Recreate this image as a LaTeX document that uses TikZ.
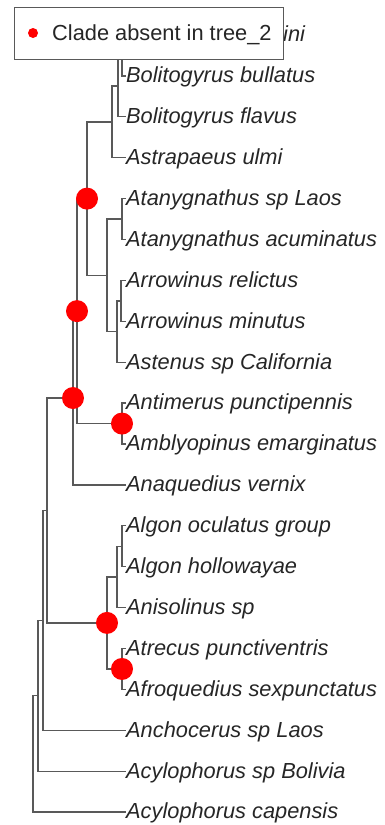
\documentclass[tikz,border=0pt]{standalone}
\usepackage{fontspec}
\setmainfont{Liberation Sans}
\begin{document}
\begin{tikzpicture}[x=1pt,y=-1pt,
  edge/.style={draw=black!65, line width=1.3pt},
  leaf/.style={anchor=base west, inner sep=0pt, yshift=-6.8pt, font=\fontsize{21.8}{22}\selectfont\itshape, text=black!85},
  absent/.style={circle, fill=red, draw=none, minimum size=22pt, inner sep=0pt},
  legdot/.style={circle, fill=red, draw=none, minimum size=10pt, inner sep=0pt}]
\useasboundingbox (0,0) rectangle (384,825);
% tips
\coordinate (t1) at (126,35);
\node[leaf] (t1lab) at (283,35) {ini};
\node[leaf] (t2) at (126,75.9) {Bolitogyrus bullatus};
\node[leaf] (t3) at (126,116.8) {Bolitogyrus flavus};
\node[leaf] (t4) at (126,157.7) {Astrapaeus ulmi};
\node[leaf] (t5) at (126,198.6) {Atanygnathus sp Laos};
\node[leaf] (t6) at (126,239.5) {Atanygnathus acuminatus};
\node[leaf] (t7) at (126,280.4) {Arrowinus relictus};
\node[leaf] (t8) at (126,321.3) {Arrowinus minutus};
\node[leaf] (t9) at (126,362.2) {Astenus sp California};
\node[leaf] (t10) at (126,403.1) {Antimerus punctipennis};
\node[leaf] (t11) at (126,444) {Amblyopinus emarginatus};
\node[leaf] (t12) at (126,484.9) {Anaquedius vernix};
\node[leaf] (t13) at (126,525.8) {Algon oculatus group};
\node[leaf] (t14) at (126,566.7) {Algon hollowayae};
\node[leaf] (t15) at (126,607.6) {Anisolinus sp};
\node[leaf] (t16) at (126,648.5) {Atrecus punctiventris};
\node[leaf] (t17) at (126,689.4) {Afroquedius sexpunctatus};
\node[leaf] (t18) at (126,730.3) {Anchocerus sp Laos};
\node[leaf] (t19) at (126,771.2) {Acylophorus sp Bolivia};
\node[leaf] (t20) at (126,812.1) {Acylophorus capensis};
% tip anchor points (line ends)
\foreach \i/\y in {2/75.9,3/116.8,4/157.7,5/198.6,6/239.5,7/280.4,8/321.3,9/362.2,10/403.1,11/444,12/484.9,13/525.8,14/566.7,15/607.6,16/648.5,17/689.4,18/730.3,19/771.2,20/812.1}
  \coordinate (e\i) at (126,\y);
% internal nodes
\coordinate (n1) at (122,55.45);
\coordinate (n2) at (118,86.1);
\coordinate (n3) at (112,121.9);
\coordinate (n4) at (122,219.05);
\coordinate (n5) at (121,300.85);
\coordinate (n6) at (117,331.5);
\coordinate (n7) at (107,275.3);
\coordinate (n8) at (87,198.6);
\coordinate (n9) at (122,423.55);
\coordinate (n10) at (77,311.1);
\coordinate (n11) at (73,398);
\coordinate (n12) at (122,546.25);
\coordinate (n13) at (117,576.9);
\coordinate (n14) at (122,668.95);
\coordinate (n15) at (107,622.9);
\coordinate (n16) at (47,510.45);
\coordinate (n17) at (43,620.4);
\coordinate (n18) at (38,695.8);
\coordinate (root) at (33,753.95);
% edges
\draw[edge] (t1) -| (n1) |- (e2);
\draw[edge] (n1) -| (n2) |- (e3);
\draw[edge] (n2) -| (n3) |- (e4);
\draw[edge] (e5) -| (n4) |- (e6);
\draw[edge] (e7) -| (n5) |- (e8);
\draw[edge] (n5) -| (n6) |- (e9);
\draw[edge] (n4) -| (n7) |- (n6);
\draw[edge] (n3) -| (n8) |- (n7);
\draw[edge] (e10) -| (n9) |- (e11);
\draw[edge] (n8) -| (n10) |- (n9);
\draw[edge] (n10) -| (n11) |- (e12);
\draw[edge] (e13) -| (n12) |- (e14);
\draw[edge] (n12) -| (n13) |- (e15);
\draw[edge] (e16) -| (n14) |- (e17);
\draw[edge] (n13) -| (n15) |- (n14);
\draw[edge] (n11) -| (n16) |- (n15);
\draw[edge] (n16) -| (n17) |- (e18);
\draw[edge] (n17) -| (n18) |- (e19);
\draw[edge] (n18) -| (root) |- (e20);
% clades absent
\node[absent] (d8) at (n8) {};
\node[absent] (d10) at (n10) {};
\node[absent] (d11) at (n11) {};
\node[absent] (d9) at (n9) {};
\node[absent] (d15) at (n15) {};
\node[absent] (d14) at (n14) {};
% legend
\node[draw=black!65, line width=1.3pt, fill=white, minimum width=269pt, minimum height=52pt, inner sep=0pt, anchor=north west] (legend) at (14,7) {};
\node[legdot] (ldot) at (33,33) {};
\node[anchor=base west, inner sep=0pt, yshift=-7.5pt, font=\fontsize{21.8}{22}\selectfont, text=black!85] (ltext) at (52,33) {Clade absent in tree\_2};
\end{tikzpicture}
\end{document}
